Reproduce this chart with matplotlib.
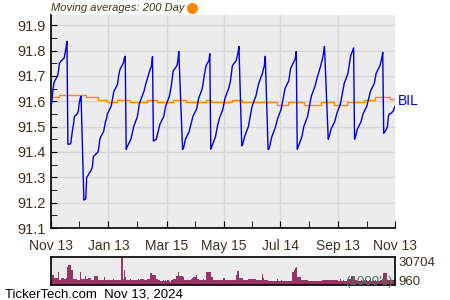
import numpy as np
import pandas as pd
import matplotlib
matplotlib.use('Agg')
import matplotlib.pyplot as plt
import matplotlib.dates as mdates
from matplotlib.lines import Line2D

plt.rcParams['font.family'] = ['Liberation Sans', 'DejaVu Sans']

# BIL closing prices (vertices)
price_dates = [
    '2023-11-13', '2023-11-14', '2023-11-15', '2023-11-16', '2023-11-17', '2023-11-20', '2023-11-21',
    '2023-11-22', '2023-11-24', '2023-11-27', '2023-11-28', '2023-11-29', '2023-11-30',
    '2023-12-01', '2023-12-04', '2023-12-05', '2023-12-06', '2023-12-07', '2023-12-08', '2023-12-11',
    '2023-12-12', '2023-12-13', '2023-12-14', '2023-12-15',
    '2023-12-18', '2023-12-19', '2023-12-20', '2023-12-21', '2023-12-22', '2023-12-26', '2023-12-27',
    '2023-12-28', '2023-12-29', '2024-01-02', '2024-01-03', '2024-01-04', '2024-01-05', '2024-01-08',
    '2024-01-09', '2024-01-10', '2024-01-11', '2024-01-12', '2024-01-16', '2024-01-17', '2024-01-18',
    '2024-01-19', '2024-01-22', '2024-01-23', '2024-01-24', '2024-01-25', '2024-01-26', '2024-01-29',
    '2024-01-30', '2024-01-31',
    '2024-02-01', '2024-02-02', '2024-02-06', '2024-02-09', '2024-02-13', '2024-02-15', '2024-02-20',
    '2024-02-22', '2024-02-26', '2024-02-28', '2024-02-29',
    '2024-03-01', '2024-03-04', '2024-03-06', '2024-03-08', '2024-03-12', '2024-03-14', '2024-03-18',
    '2024-03-20', '2024-03-22', '2024-03-26', '2024-03-27', '2024-03-28',
    '2024-04-01', '2024-04-02', '2024-04-04', '2024-04-08', '2024-04-10', '2024-04-12', '2024-04-16',
    '2024-04-18', '2024-04-22', '2024-04-24', '2024-04-26', '2024-04-29', '2024-04-30',
    '2024-05-01', '2024-05-02', '2024-05-06', '2024-05-08', '2024-05-10', '2024-05-14', '2024-05-16',
    '2024-05-20', '2024-05-22', '2024-05-24', '2024-05-28', '2024-05-30', '2024-05-31',
    '2024-06-03', '2024-06-04', '2024-06-06', '2024-06-10', '2024-06-12', '2024-06-14', '2024-06-18',
    '2024-06-21', '2024-06-25', '2024-06-27', '2024-06-28',
    '2024-07-01', '2024-07-02', '2024-07-05', '2024-07-09', '2024-07-11', '2024-07-15', '2024-07-17',
    '2024-07-19', '2024-07-23', '2024-07-25', '2024-07-29', '2024-07-30', '2024-07-31',
    '2024-08-01', '2024-08-02', '2024-08-06', '2024-08-08', '2024-08-12', '2024-08-14', '2024-08-16',
    '2024-08-20', '2024-08-22', '2024-08-26', '2024-08-28', '2024-08-29', '2024-08-30',
    '2024-09-03', '2024-09-04', '2024-09-06', '2024-09-10', '2024-09-12', '2024-09-16', '2024-09-18',
    '2024-09-20', '2024-09-24', '2024-09-26', '2024-09-27', '2024-09-30',
    '2024-10-01', '2024-10-02', '2024-10-04', '2024-10-08', '2024-10-10', '2024-10-14', '2024-10-16',
    '2024-10-18', '2024-10-22', '2024-10-24', '2024-10-28', '2024-10-30', '2024-10-31',
    '2024-11-01', '2024-11-04', '2024-11-05', '2024-11-06', '2024-11-07', '2024-11-08', '2024-11-11',
    '2024-11-12', '2024-11-13',
]
price_vals = [
    91.580, 91.600, 91.640, 91.670, 91.680, 91.700, 91.720,
    91.750, 91.760, 91.770, 91.790, 91.810, 91.836,
    91.430, 91.432, 91.460, 91.490, 91.510, 91.540, 91.550,
    91.560, 91.590, 91.610, 91.620,
    91.210, 91.212, 91.215, 91.300, 91.305, 91.330, 91.340,
    91.380, 91.385, 91.400, 91.420, 91.450, 91.460, 91.480,
    91.500, 91.520, 91.530, 91.550, 91.580, 91.600, 91.620,
    91.640, 91.660, 91.670, 91.700, 91.720, 91.730, 91.750,
    91.770, 91.777,
    91.410, 91.420, 91.450, 91.500, 91.540, 91.590, 91.640,
    91.670, 91.720, 91.740, 91.776,
    91.443, 91.450, 91.480, 91.510, 91.540, 91.580, 91.620,
    91.660, 91.720, 91.740, 91.760, 91.796,
    91.410, 91.415, 91.450, 91.480, 91.510, 91.540, 91.570,
    91.610, 91.650, 91.700, 91.740, 91.760, 91.787,
    91.410, 91.420, 91.460, 91.500, 91.530, 91.570, 91.610,
    91.650, 91.680, 91.740, 91.760, 91.790, 91.816,
    91.424, 91.430, 91.460, 91.500, 91.540, 91.580, 91.620,
    91.670, 91.710, 91.740, 91.777,
    91.410, 91.412, 91.460, 91.500, 91.530, 91.570, 91.610,
    91.650, 91.680, 91.730, 91.760, 91.770, 91.796,
    91.410, 91.420, 91.460, 91.500, 91.540, 91.580, 91.620,
    91.660, 91.690, 91.740, 91.770, 91.790, 91.816,
    91.450, 91.460, 91.490, 91.520, 91.550, 91.590, 91.630,
    91.670, 91.710, 91.760, 91.780, 91.810,
    91.450, 91.460, 91.490, 91.520, 91.550, 91.580, 91.610,
    91.640, 91.670, 91.710, 91.740, 91.770, 91.793,
    91.473, 91.490, 91.500, 91.540, 91.550, 91.550, 91.560,
    91.570, 91.580,
]

# 200 day moving average (step changes)
ma_dates = [
    '2023-11-13', '2023-11-22', '2023-12-20', '2024-01-02', '2024-01-12', '2024-01-22', '2024-02-05',
    '2024-02-23', '2024-03-05', '2024-03-22', '2024-04-05', '2024-04-26', '2024-05-01', '2024-05-24',
    '2024-06-03', '2024-07-10', '2024-07-22', '2024-08-08', '2024-08-26', '2024-09-09', '2024-09-23',
    '2024-10-11', '2024-10-23', '2024-11-08', '2024-11-13',
]
ma_vals = [
    91.615, 91.623, 91.615, 91.604, 91.596, 91.604, 91.596,
    91.604, 91.596, 91.604, 91.596, 91.604, 91.596, 91.604,
    91.596, 91.584, 91.596, 91.584, 91.596, 91.584, 91.596,
    91.603, 91.615, 91.610, 91.610,
]

# daily volume in 1000's, one list per month
vol_nov23 = [6.6, 11, 11, 7.7, 7.5, 14, 13, 5, 8, 7, 7, 7.5, 20]
vol_dec23 = [22, 17, 16, 6.5, 8, 7, 6, 5.5, 6, 14.6, 7, 7, 10, 7, 7, 7.5, 5, 5, 5.5, 9.5]
vol_jan24 = [5, 5, 5.5, 5, 8.8, 6, 5.5, 6, 5.5, 6, 5.5, 6.5, 6, 5.5, 6, 5.5, 6, 30.7, 7, 16, 9]
vol_feb24 = [6, 5, 7, 5.5, 6, 5, 5.5, 6, 5, 6.5, 5, 7, 5.5, 6, 5, 6.5, 13, 13, 11, 11]
vol_mar24 = [11, 7, 7, 5, 5, 4.5, 5, 4.5, 5, 4.5, 5, 4.5, 3.5, 6, 6, 6.5, 10, 10, 14.6, 10]
vol_apr24 = [9, 9, 6, 6, 5, 5, 5, 7, 8, 9, 11, 7, 7, 6, 6, 6, 6.5, 6, 6, 14.7, 14.7, 14]
vol_may24 = [9, 9, 6, 6, 5, 5, 5, 5, 5, 8, 8, 5, 5, 5.5, 5.5, 5.5, 5.5, 5.5, 11, 15.4, 15.4, 8]
vol_jun24 = [8, 5, 5, 5, 5, 6.6, 6.6, 6.6, 6.6, 6.6, 6.6, 5, 5, 5, 11.7, 11.7, 8, 5, 5]
vol_jul24 = [4.5, 4.5, 4.5, 4.5, 4.5, 4.5, 4.5, 7, 4.5, 6, 4.5, 4.5, 4.5, 4.5, 4, 4, 4, 4, 14, 16, 19, 20]
vol_aug24 = [9, 9, 5, 5, 5, 5, 6, 4, 4, 4.5, 4, 4, 4, 4.5, 4, 4, 4, 4, 5, 5, 15, 5.5]
vol_sep24 = [5.5, 5.5, 5.5, 5.5, 5.5, 5.5, 5.5, 5.5, 4.5, 7, 4.5, 4.5, 6, 4.5, 4.5, 7, 7, 7, 10, 10]
vol_oct24 = [10, 5, 5, 4.5, 4.5, 5, 4.5, 4.5, 5, 4.5, 4.5, 5, 4.5, 4.5, 5, 4.5, 5, 4.5, 4.5, 5, 6, 7, 13]
vol_nov24 = [13, 6, 6, 6, 5.5, 6, 5, 6, 6]

holidays = ['2023-11-23', '2023-12-25', '2024-01-01', '2024-01-15', '2024-02-19',
            '2024-03-29', '2024-05-27', '2024-06-19', '2024-07-04', '2024-09-02']

tick_dates = ['2023-11-13', '2024-01-13', '2024-03-15', '2024-05-15', '2024-07-14', '2024-09-13', '2024-11-13']
tick_labels = ['Nov 13', 'Jan 13', 'Mar 15', 'May 15', 'Jul 14', 'Sep 13', 'Nov 13']
minor_dates = ['2023-12-13', '2024-02-13', '2024-04-14', '2024-06-14', '2024-08-13', '2024-10-14']

vol_max_label = '30704'
vol_min_label = '960'

# trading days
days = pd.bdate_range('2023-11-13', '2024-11-13')
days = days[~days.isin(pd.to_datetime(holidays))]
volume = np.concatenate([vol_nov23, vol_dec23, vol_jan24, vol_feb24, vol_mar24, vol_apr24, vol_may24,
                         vol_jun24, vol_jul24, vol_aug24, vol_sep24, vol_oct24, vol_nov24])
n = min(len(days), len(volume))
vx = mdates.date2num(days[:n].to_pydatetime())
vw = np.diff(np.append(vx, vx[-1] + 1.4))

px = pd.to_datetime(price_dates)
mx = pd.to_datetime(ma_dates)
xmin = pd.Timestamp('2023-11-13')
xmax = pd.Timestamp('2024-11-13')

bg = '#ececec'
txt = '#3b3020'

fig = plt.figure(figsize=(4.5, 3), dpi=100)

# main price panel
ax = fig.add_axes([0.1133, 0.24, 0.7644, 0.71])
ax.set_facecolor(bg)
ax.plot(px, price_vals, color='#0000e0', lw=1.0, zorder=3)
ax.plot(mx, ma_vals, color='#ff8800', lw=1.0, drawstyle='steps-post', zorder=2)
ax.set_xlim(xmin, xmax)
ax.set_ylim(91.1, 91.94)
ax.set_yticks([91.1, 91.2, 91.3, 91.4, 91.5, 91.6, 91.7, 91.8, 91.9])
ax.set_yticks(np.arange(91.15, 91.94, 0.1), minor=True)
ax.set_xticks(pd.to_datetime(tick_dates))
ax.set_xticklabels(tick_labels)
ax.set_xticks(pd.to_datetime(minor_dates), minor=True)
ax.grid(True, which='major', color='#d6d6d6', lw=1)
for s in ['top', 'right']:
    ax.spines[s].set_visible(False)
for s in ['left', 'bottom']:
    ax.spines[s].set_color('black')
    ax.spines[s].set_linewidth(1.2)
ax.tick_params(axis='both', which='both', direction='in', colors='black', labelcolor=txt, labelsize=10)
ax.tick_params(axis='y', which='both', length=4, labelsize=10.5)
ax.tick_params(axis='x', which='both', length=5, pad=8)
ax.text(1.008, 0.595, 'BIL', transform=ax.transAxes, color='#0000e0', fontsize=10, va='center', ha='left')

fig.text(0.113, 0.973, 'Moving averages: 200 Day', fontsize=8, style='italic', color=txt, va='center')
fig.add_artist(Line2D([0.427], [0.973], transform=fig.transFigure, marker='o', ms=7,
                      color='#ff8800', lw=0))

# volume panel
axv = fig.add_axes([0.1133, 0.05, 0.7644, 0.0933])
axv.set_facecolor(bg)
axv.bar(vx[:n], volume[:n], width=vw, align='edge', color='#993366', lw=0)
axv.set_xlim(mdates.date2num(xmin), mdates.date2num(xmax))
axv.set_ylim(0, 30.704)
axv.set_xticks([])
axv.set_yticks([])
for s in axv.spines.values():
    s.set_color('black')
    s.set_linewidth(1.2)
axv.text(1.01, 0.78, vol_max_label, transform=axv.transAxes, fontsize=9.5, color=txt, va='center')
axv.text(1.01, 0.12, vol_min_label, transform=axv.transAxes, fontsize=9.5, color=txt, va='center')
axv.text(0.995, 0.12, "(1000's)", transform=axv.transAxes, fontsize=9.5, color='#3f7a5a', va='center', ha='right')

fig.text(0.011, 0.017, 'TickerTech.com  Nov 13, 2024', fontsize=9.5, color='black', va='center')

fig.savefig('out.png', dpi=100)
